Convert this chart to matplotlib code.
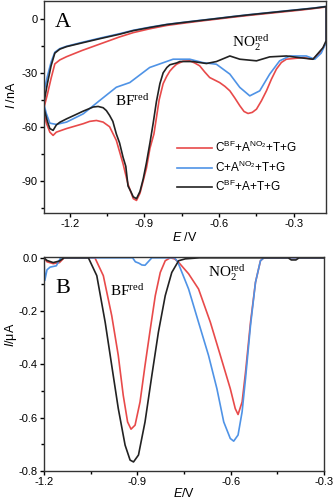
import matplotlib
matplotlib.use("Agg")
import matplotlib.pyplot as plt

plt.rcParams['font.family'] = ['Liberation Sans', 'DejaVu Sans']
plt.rcParams['mathtext.fontset'] = 'custom'
plt.rcParams['mathtext.rm'] = 'Liberation Serif'
plt.rcParams['mathtext.sf'] = 'Liberation Sans'
plt.rcParams['mathtext.it'] = 'Liberation Sans:italic'

RED = '#e84a4a'
BLUE = '#4f93e6'
BLACK = '#222222'

# ---- panel A: cyclic voltammograms (nA) ----
a_up_x = [-1.303, -1.29, -1.275, -1.26, -1.24, -1.213, -1.15, -1.08, -1.0, -0.945, -0.88,
          -0.81, -0.74, -0.678, -0.61, -0.544, -0.48, -0.41, -0.34, -0.276, -0.22, -0.17]
a_up_black = [-46, -36, -26, -19, -16.8, -15.4, -13.3, -11, -8.5, -6.5, -4.8,
              -3.1, -1.9, -0.9, 0.2, 1.3, 2.3, 3.3, 4.3, 5.2, 6.0, 6.9]
a_up_red = [-49, -42, -33, -25, -22.8, -21, -17.5, -14, -10, -7.6, -5.5,
            -3.6, -2.3, -1.2, -0.1, 1.0, 2.0, 3.0, 4.0, 4.9, 5.8, 6.7]
a_up_blue = [-40, -32, -24, -18.5, -16.5, -15.2, -13, -10.7, -8.2, -6.3, -4.6,
             -3.0, -1.8, -0.8, 0.3, 1.4, 2.4, 3.4, 4.4, 5.3, 6.1, 7.0]

a_low_black_x = [-0.17, -0.183, -0.223, -0.28, -0.33, -0.397, -0.45, -0.517, -0.557, -0.611,
                 -0.651, -0.705, -0.758, -0.771, -0.798, -0.81, -0.825, -0.838, -0.852, -0.865,
                 -0.878, -0.892, -0.905, -0.918, -0.932, -0.945, -0.955, -0.966, -0.975, -0.986,
                 -1.0, -1.013, -1.027, -1.04, -1.053, -1.066, -1.086, -1.106, -1.146, -1.18,
                 -1.213, -1.24, -1.254, -1.267, -1.28, -1.29, -1.303]
a_low_black = [-12, -16, -22.4, -21.5, -20.6, -21.1, -23.3, -22.4, -20.6, -23.7,
               -24.8, -23.7, -23.7, -24.5, -25.5, -27, -30, -36, -46, -58,
               -69, -80, -89, -96, -100, -99, -96, -93, -82, -77,
               -69, -64, -57, -53.7, -51, -49.4, -48.7, -49, -51.3, -53.5,
               -55.6, -57.5, -59, -62, -61, -57, -50]

a_low_red_x = [-0.17, -0.19, -0.223, -0.263, -0.33, -0.35, -0.37, -0.39, -0.41, -0.43,
               -0.45, -0.467, -0.484, -0.5, -0.517, -0.537, -0.557, -0.577, -0.598, -0.618,
               -0.638, -0.658, -0.678, -0.698, -0.718, -0.745, -0.771, -0.785, -0.798, -0.811,
               -0.825, -0.841, -0.852, -0.862, -0.878, -0.892, -0.905, -0.918, -0.932, -0.945,
               -0.966, -0.986, -1.013, -1.04, -1.066, -1.093, -1.12, -1.146, -1.213, -1.254,
               -1.267, -1.28, -1.294, -1.303]
a_low_red = [-13, -18, -22.4, -21.5, -22.4, -24.2, -27.9, -33.5, -40, -45.5,
             -50.2, -52, -52.6, -51.5, -48.3, -44, -40, -37.5, -35.4, -34,
             -32.6, -29.5, -26.1, -24.5, -23.3, -23.5, -25.2, -27, -29, -32,
             -36, -45, -55, -64, -72, -83, -90, -97, -101, -100,
             -92, -80.6, -67.6, -60, -57.4, -56.5, -57, -58.3, -61, -63,
             -64.8, -63, -58, -52.7]

a_low_blue_x = [-0.17, -0.19, -0.216, -0.25, -0.316, -0.357, -0.397, -0.437, -0.477, -0.517,
                -0.557, -0.611, -0.665, -0.718, -0.785, -0.879, -0.959, -1.013, -1.08, -1.146,
                -1.213, -1.254, -1.28, -1.294, -1.303]
a_low_blue = [-13, -19, -22.4, -20.6, -20.6, -23.3, -30.7, -40, -42.8, -38.1,
              -30.7, -25.2, -24.3, -22.4, -22.4, -27, -35.4, -38, -45.4, -52.8,
              -57.4, -58.7, -58, -52.7, -48]

# ---- panel B: differential pulse voltammograms (uA) ----
b_red_x = [-1.2, -1.19, -1.17, -1.15, -1.135, -1.036, -1.009, -0.982, -0.961, -0.945,
           -0.931, -0.92, -0.907, -0.891, -0.875, -0.858, -0.842, -0.826, -0.81, -0.794,
           -0.78, -0.767, -0.735, -0.703, -0.665, -0.633, -0.601, -0.585, -0.576, -0.563,
           -0.552, -0.536, -0.52, -0.504, -0.493, -0.3]
b_red = [0, -0.015, -0.022, -0.018, 0, 0, -0.067, -0.217, -0.366, -0.516,
         -0.616, -0.643, -0.628, -0.541, -0.404, -0.267, -0.142, -0.055, -0.011, 0,
         -0.004, -0.017, -0.06, -0.117, -0.242, -0.366, -0.491, -0.566, -0.588, -0.541,
         -0.429, -0.242, -0.092, -0.011, 0, 0]

b_blue_x = [-1.2, -1.197, -1.19, -1.18, -1.16, -1.146, -0.915, -0.906, -0.895, -0.885,
            -0.875, -0.853, -0.78, -0.77, -0.735, -0.703, -0.671, -0.644, -0.622, -0.601,
            -0.59, -0.576, -0.563, -0.552, -0.536, -0.52, -0.504, -0.493, -0.3]
b_blue = [0, -0.085, -0.045, -0.035, -0.03, 0, 0, -0.015, -0.02, -0.027,
          -0.028, 0, 0, -0.015, -0.117, -0.242, -0.366, -0.491, -0.616, -0.678,
          -0.688, -0.665, -0.578, -0.453, -0.254, -0.092, -0.011, 0, 0]

b_black_x = [-1.2, -1.19, -1.17, -1.15, -1.135, -1.057, -1.03, -1.003, -0.982, -0.961,
             -0.939, -0.923, -0.912, -0.896, -0.875, -0.853, -0.832, -0.81, -0.789, -0.767,
             -0.746, -0.7, -0.415, -0.405, -0.39, -0.38, -0.3]
b_black = [0, -0.01, -0.018, -0.012, 0, 0, -0.067, -0.242, -0.404, -0.565,
           -0.703, -0.759, -0.766, -0.74, -0.616, -0.441, -0.279, -0.142, -0.055, -0.011,
           -0.004, 0, 0, -0.008, -0.008, 0, 0]

labels = [r'C$^{\mathsf{BF}}$+A$^{\mathsf{NO_2}}$+T+G',
          r'C+A$^{\mathsf{NO_2}}$+T+G',
          r'C$^{\mathsf{BF}}$+A+T+G']

fig = plt.figure(figsize=(3.35, 5.0), dpi=100)
axA = fig.add_axes([0.131, 0.574, 0.842, 0.424])
axB = fig.add_axes([0.131, 0.058, 0.836, 0.428])

axA.plot(a_up_x + a_low_red_x, a_up_red + a_low_red, color=RED, lw=1.2, label=labels[0])
axA.plot(a_up_x + a_low_blue_x, a_up_blue + a_low_blue, color=BLUE, lw=1.2, label=labels[1])
axA.plot(a_up_x + a_low_black_x, a_up_black + a_low_black, color=BLACK, lw=1.2, label=labels[2])
axA.set_xlim(-1.304, -0.171)
axA.set_ylim(-108, 10)
axA.set_xticks([-1.2, -0.9, -0.6, -0.3])
axA.set_xticks([-1.05, -0.75, -0.45], minor=True)
axA.set_yticks([0, -30, -60, -90])
axA.set_yticks([-15, -45, -75, -105], minor=True)
axA.set_xticklabels(['-1.2', '-0.9', '-0.6', '-0.3'])
axA.set_yticklabels(['0', '-30', '-60', '-90'])
axA.set_xlabel(r'$E$ /V', fontsize=9, labelpad=1)
axA.set_ylabel(r'$I$ /nA', fontsize=9)
axA.yaxis.set_label_coords(-0.09, 0.554)
axA.text(0.04, 0.9, 'A', transform=axA.transAxes, fontsize=16, family='Liberation Serif', va='center')
axA.text(-1.019, -45.6, r'BF$^{\mathrm{red}}$', fontsize=11, family='Liberation Serif', va='center')
axA.text(-0.549, -13.3, r'NO$_2^{\mathrm{red}}$', fontsize=11, family='Liberation Serif', va='center')
axA.legend(loc='center left', bbox_to_anchor=(0.45, 0.216), frameon=False, fontsize=8.5,
           handlelength=3.0, handletextpad=0.25, labelspacing=0.35, borderpad=0)

axB.plot(b_red_x, b_red, color=RED, lw=1.2)
axB.plot(b_blue_x, b_blue, color=BLUE, lw=1.2)
axB.plot(b_black_x, b_black, color=BLACK, lw=1.2)
axB.set_xlim(-1.2, -0.3)
axB.set_ylim(-0.8, 0.003)
axB.set_xticks([-1.2, -0.9, -0.6, -0.3])
axB.set_xticks([-1.05, -0.75, -0.45], minor=True)
axB.set_yticks([0.0, -0.2, -0.4, -0.6, -0.8])
axB.set_yticks([-0.1, -0.3, -0.5, -0.7], minor=True)
axB.set_xticklabels(['-1.2', '-0.9', '-0.6', '-0.3'])
axB.set_yticklabels(['0.0', '-0.2', '-0.4', '-0.6', '-0.8'])
axB.set_xlabel(r'$E$/V', fontsize=9, labelpad=0)
axB.set_ylabel(r'$I$/$\mathsf{\mu}$A', fontsize=9)
axB.yaxis.set_label_coords(-0.09, 0.636)
axB.text(0.04, 0.855, 'B', transform=axB.transAxes, fontsize=16, family='Liberation Serif', va='center')
axB.text(-0.986, -0.123, r'BF$^{\mathrm{red}}$', fontsize=11, family='Liberation Serif', va='center')
axB.text(-0.671, -0.056, r'NO$_2^{\mathrm{red}}$', fontsize=11, family='Liberation Serif', va='center')

for ax in (axA, axB):
    for s in ax.spines.values():
        s.set_linewidth(1.0)
        s.set_color('#333333')
    ax.tick_params(which='major', direction='out', length=3, width=1, labelsize=8, pad=1.5)
    ax.tick_params(which='minor', direction='out', length=2, width=1)

fig.savefig('out.png', dpi=100)
